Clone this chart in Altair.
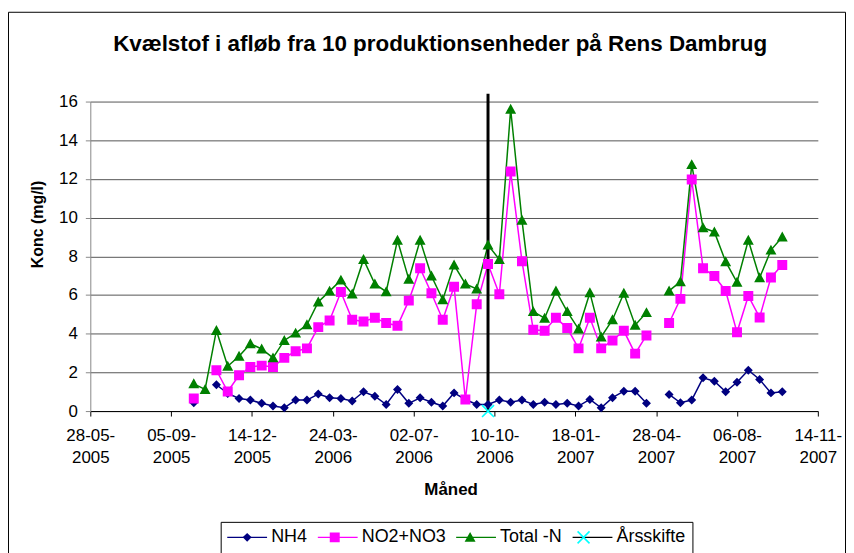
import altair as alt
import pandas as pd

# ---- data ----
dates = [
    "2005-10-03", "2005-10-17", "2005-10-31", "2005-11-14", "2005-11-28", "2005-12-12", "2005-12-26",
    "2006-01-09", "2006-01-23", "2006-02-06", "2006-02-20", "2006-03-06", "2006-03-20", "2006-04-03",
    "2006-04-17", "2006-05-01", "2006-05-15", "2006-05-29", "2006-06-12", "2006-06-26", "2006-07-10",
    "2006-07-24", "2006-08-07", "2006-08-21", "2006-09-04", "2006-09-18", "2006-10-02", "2006-10-16",
    "2006-10-30", "2006-11-13", "2006-11-27", "2006-12-11", "2006-12-25", "2007-01-08", "2007-01-22",
    "2007-02-05", "2007-02-19", "2007-03-05", "2007-03-19", "2007-04-02", "2007-04-16", "2007-04-30",
    "2007-05-14", "2007-05-28", "2007-06-11", "2007-06-25", "2007-07-09", "2007-07-23", "2007-08-06",
    "2007-08-20", "2007-09-03", "2007-09-17", "2007-10-01",
]
nh4 = [0.43, None, 1.36, 0.91, 0.65, 0.57, 0.40, 0.26, 0.17, 0.57, 0.57, 0.88, 0.69, 0.65,
       0.52, 1.00, 0.77, 0.34, 1.12, 0.40, 0.69, 0.46, 0.26, 0.94, 0.60, 0.34, 0.34, 0.57,
       0.46, 0.57, 0.34, 0.46, 0.34, 0.40, 0.26, 0.60, 0.17, 0.69, 1.03, 1.03, 0.40, None,
       0.86, 0.43, 0.57, 1.72, 1.54, 1.00, 1.49, 2.11, 1.63, 0.94, 1.00]
no2no3 = [0.65, None, 2.11, 1.01, 1.85, 2.28, 2.35, 2.28, 2.75, 3.09, 3.24, 4.34, 4.68, 6.16,
          4.72, 4.63, 4.82, 4.55, 4.41, 5.71, 7.38, 6.09, 4.72, 6.43, 0.60, 5.52, 7.60, 6.04,
          12.38, 7.75, 4.20, 4.15, 4.82, 4.29, 3.24, 4.82, 3.24, 3.65, 4.15, 2.97, 3.91, None,
          4.55, 5.80, 11.97, 7.38, 6.98, 6.21, 4.07, 5.95, 4.84, 6.91, 7.55]
total_n = [1.41, 1.12, 4.17, 2.32, 2.83, 3.48, 3.21, 2.75, 3.65, 4.03, 4.46, 5.64, 6.20, 6.77,
           6.05, 7.84, 6.57, 6.17, 8.83, 6.81, 8.83, 6.98, 5.75, 7.55, 6.57, 6.31, 8.58, 7.84,
           15.60, 9.86, 5.14, 4.80, 6.21, 5.14, 4.24, 6.12, 3.83, 4.72, 6.09, 4.44, 5.09, None,
           6.21, 6.69, 12.74, 9.48, 9.26, 7.72, 6.66, 8.83, 6.89, 8.32, 9.00]

series_names = ["NH4", "NO2+NO3", "Total -N", "Årsskifte"]
marker_keys = ["m_NH4", "m_NO2+NO3", "m_Total -N", "m_Årsskifte"]
line_colors = ["#000080", "#FF00FF", "#008000", "#000000"]
marker_colors = ["#000080", "#FF00FF", "#008000", "#00FFFF"]

aarsskifte_date = "2006-10-02"
aarsskifte_low = 0
aarsskifte_high = 16.4

tick_dates = [(2005, 5, 28), (2005, 9, 5), (2005, 12, 14), (2006, 3, 24), (2006, 7, 2),
              (2006, 10, 10), (2007, 1, 18), (2007, 4, 28), (2007, 8, 6), (2007, 11, 14)]
y_ticks = [0, 2, 4, 6, 8, 10, 12, 14, 16]

title_text = "Kvælstof i afløb fra 10 produktionsenheder på Rens Dambrug"
y_title = "Konc (mg/l)"
x_title = "Måned"

# marker shapes (unit square -1..1, scaled by size); the zero-area "M-4,0L4,0"
# part only gives the legend entries the same width as the line symbols
EXT = "M-4,0L4,0"
diamond = "M0,-0.9L0.9,0L0,0.9L-0.9,0Z" + EXT
square = "M-1,-1L1,-1L1,1L-1,1Z" + EXT
triangle = "M0,-1.1L1.1,0.9L-1.1,0.9Z" + EXT
xcross = ("M-1.313,-1.087L1.087,1.313L1.313,1.087L-1.087,-1.313Z"
          "M-1.087,1.313L1.313,-1.087L1.087,-1.313L-1.313,1.087Z" + EXT)
marker_paths = [diamond, square, triangle, xcross]

FONT = "Liberation Sans"

# ---- tables ----
rows = []
for name, vals in zip(series_names[:3], [nh4, no2no3, total_n]):
    for d, v in zip(dates, vals):
        rows.append({"date": d, "series": name, "value": v})
line_df = pd.DataFrame(rows)

prow = []
for name, key, vals in zip(series_names[:3], marker_keys[:3], [nh4, no2no3, total_n]):
    for d, v in zip(dates, vals):
        if v is not None:
            prow.append({"date": d, "mk": key, "value": v})
prow.append({"date": aarsskifte_date, "mk": marker_keys[3], "value": aarsskifte_low})
point_df = pd.DataFrame(prow)

rule_df = pd.DataFrame({"date": [aarsskifte_date], "lo": [aarsskifte_low], "hi": [aarsskifte_high]})

def dt(t):
    return alt.DateTime(year=t[0], month=t[1], date=t[2], utc=True)

x_scale = alt.Scale(type="utc", domain=[dt(tick_dates[0]), dt(tick_dates[-1])])
y_scale = alt.Scale(domain=[0, 16], nice=False)

LEG_X, LEG_Y = 131, 422.3
LAB_OFF, COL_PAD = 15.1, 7

# line legend (with the visible names) and, exactly on top of it, the marker legend
legA = alt.Legend(orient="none", legendX=LEG_X, legendY=LEG_Y, direction="horizontal", title=None,
                  symbolType="M-4,0L4,0", symbolSize=100, symbolStrokeWidth=1.5,
                  labelFont=FONT, labelFontSize=18, labelColor="black", labelOffset=LAB_OFF,
                  symbolOffset=11, columnPadding=COL_PAD, padding=6.6, strokeColor="black", zindex=0)
legB = alt.Legend(orient="none", legendX=LEG_X, legendY=LEG_Y, direction="horizontal", title=None,
                  symbolSize=100, symbolStrokeWidth=0,
                  labelFont=FONT, labelFontSize=18, labelOpacity=0, labelOffset=LAB_OFF,
                  labelExpr="substring(datum.label, 2)",
                  symbolOffset=11, columnPadding=COL_PAD, padding=6.6, zindex=1)

x_axis = alt.Axis(values=[dt(t) for t in tick_dates], grid=False, domainColor="black", tickColor="black",
                  tickSize=5, labelExpr="[utcFormat(datum.value, '%d-%m-'), utcFormat(datum.value, '%Y')]",
                  labelFont=FONT, labelFontSize=17, labelColor="black", labelLineHeight=22,
                  labelPadding=12, labelOverlap=False, labelFlush=False,
                  title=x_title, titleFont=FONT, titleFontSize=17, titleFontWeight="bold", titleColor="black",
                  titleX=362, titleY=79, titleBaseline="middle", titleAlign="center")
y_axis = alt.Axis(values=y_ticks, grid=True, gridColor="#555555", domainColor="#888888", tickColor="#888888",
                  tickSize=5, labelFont=FONT, labelFontSize=17, labelColor="black", labelPadding=8,
                  title=y_title, titleFont=FONT, titleFontSize=16, titleFontWeight="bold", titleColor="black",
                  titleX=-53, titleY=123, titleAngle=270, titleAlign="center", titleBaseline="middle")

lines = alt.Chart(line_df).mark_line(strokeWidth=1.5, invalid="break-paths-show-domains").encode(
    x=alt.X("date:T", scale=x_scale, axis=x_axis),
    y=alt.Y("value:Q", scale=y_scale, axis=y_axis),
    color=alt.Color("series:N", scale=alt.Scale(domain=series_names, range=line_colors), legend=legA),
)

rule = alt.Chart(rule_df).mark_rule(color="black", strokeWidth=3).encode(
    x=alt.X("date:T", scale=x_scale, axis=x_axis),
    y=alt.Y("lo:Q", scale=y_scale, axis=y_axis),
    y2="hi:Q",
)

points = alt.Chart(point_df).mark_point(filled=True, size=100, opacity=1, strokeWidth=0).encode(
    x=alt.X("date:T", scale=x_scale, axis=x_axis),
    y=alt.Y("value:Q", scale=y_scale, axis=y_axis),
    shape=alt.Shape("mk:N", scale=alt.Scale(domain=marker_keys, range=marker_paths), legend=legB),
    fill=alt.Fill("mk:N", scale=alt.Scale(domain=marker_keys, range=marker_colors), legend=legB),
)

frame = alt.Chart(pd.DataFrame({"a": [0]})).mark_rect(fillOpacity=0, stroke="black", strokeWidth=1).encode(
    x=alt.value(-82.2), x2=alt.value(758.8), y=alt.value(-89.7), y2=alt.value(470),
)

chart = alt.layer(frame, lines, rule, points).properties(
    width=731, height=311,
    padding={"left": 82.7, "top": 92.7, "right": 28.3, "bottom": 141.3},
    autosize=alt.AutoSizeParams(type="none"),
    title=alt.TitleParams(title_text, font=FONT, fontSize=22.5, fontWeight="bold", color="black",
                          anchor="middle", frame="group", dx=-14, offset=0, dy=61.5, baseline="alphabetic"),
).configure(background="white", view=alt.ViewConfig(stroke="transparent"))

chart.save("out.html", embed_options={"renderer": "svg", "actions": False})
